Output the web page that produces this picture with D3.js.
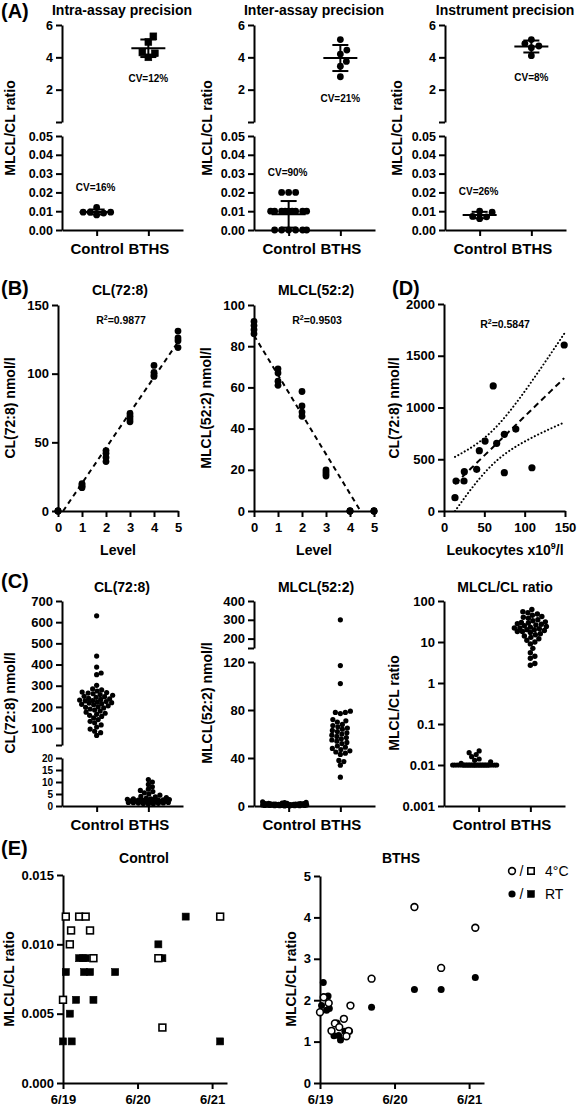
<!DOCTYPE html>
<html><head><meta charset="utf-8">
<script src="https://cdn.jsdelivr.net/npm/d3@7"></script>
<style>body{margin:0;background:#fff} svg{display:block}</style>
</head><body>
<script>
// ================= DATA =================
const categories = ["Control", "BTHS"];

// (A) precision
const titlesA = ["Intra-assay precision", "Inter-assay precision", "Instrument precision"];
const intraControl = [0.012, 0.008, 0.0095, 0.0095, 0.0095, 0.009];
const intraBTHS = [5.3, 4.95, 4.3, 4.25, 4.0];
const interControl = [0.02, 0.02, 0.02, 0.01, 0.01, 0.01, 0.01, 0.01, 0.01, 0.01, 0.01, 0.01, 0, 0, 0, 0, 0, 0];
const interBTHS = [5.1, 4.45, 4.2, 3.75, 3.45, 2.8];
const instrControl = [0.0095, 0.006, 0.010, 0.007, 0.0072];
const instrBTHS = [4.85, 5.1, 4.6, 4.7, 4.1];
const cvControl = ["CV=16%", "CV=90%", "CV=26%"];
const cvBTHS = ["CV=12%", "CV=21%", "CV=8%"];
const ticksAUpper = [0, 2, 4, 6];
const ticksALower = [0, 0.01, 0.02, 0.03, 0.04, 0.05];

// (B) linearity
const levels = [0,0,0,0, 1,1,1,1, 2,2,2,2, 3,3,3,3, 4,4,4,4, 5,5,5,5];
const clLevel = [0,0,0,0, 17,18,19,20, 36,39,42,44, 65,67,69,71, 98,99,101,106, 119,124,126,131];
const mlclLevel = [86,88,90,92, 61,63,67,69, 46,48,51,58, 17,18,19,20, 0,0,0,0, 0,0,0,0];
const levelTicks = [0, 1, 2, 3, 4, 5];
const clTicks = [0, 50, 100, 150];
const mlclTicks = [0, 20, 40, 60, 80, 100];
const r2Labels = ["0.9877", "0.9503", "0.5847"];

// (D) leukocytes vs CL(72:8)
const leukocytes = [13.6, 14.9, 24.8, 25.2, 40.5, 43.8, 50.9, 65.3, 74.8, 89, 74.8, 109, 61, 149];
const clLeuk = [129, 290, 290, 380, 403, 583, 676, 654, 741, 792, 370, 418, 1208, 1604];
const leukTicks = [0, 50, 100, 150];
const clLeukTicks = [0, 500, 1000, 1500, 2000];
const tCrit = 2.179; // t(0.975, df=12)

// (C) patients
const cControlCL = [630, 440, 388, 360, 352, 302, 285, 280, 275, 270, 268, 265, 262, 258, 255, 250, 248, 245, 240, 238, 235, 232, 230, 228, 225, 222, 220, 218, 215, 212, 210, 205, 200, 198, 195, 190, 185, 180, 175, 170, 165, 160, 155, 148, 140, 132, 125, 115, 105, 95, 85, 78, 65];
const cBTHSCL = [11, 10, 9, 8, 7, 6.5, 6, 5.5, 5, 4.5, 4, 3.8, 3.5, 3.3, 3, 3, 2.8, 2.7, 2.6, 2.5, 2.5, 2.4, 2.3, 2.2, 2.1, 2, 2, 1.9, 1.8, 1.8, 1.7, 1.6, 1.5, 1.5, 1.4, 1.3, 1.2, 1.1, 1, 0.9, 0.8];
const cControlMLCL = [3.5, 3, 2.8, 2.5, 2.3, 2.2, 2, 2, 1.9, 1.8, 1.7, 1.6, 1.5, 1.5, 1.4, 1.3, 1.2, 1.2, 1.1, 1, 1, 0.9, 0.9, 0.8, 0.8, 0.7, 0.7, 0.6, 0.6, 0.5, 0.5, 0.5, 0.4, 0.4, 0.3, 0.3, 0.2, 0.2, 0.1, 0.1];
const cBTHSMLCL = [300, 117, 102, 79, 78, 78, 77, 72, 71, 70, 68, 67, 66, 65, 64, 63, 62, 61, 60, 59, 58, 57, 56, 55, 54, 53, 52, 50, 49, 48, 47, 46, 45, 44, 43, 38, 37, 34, 24];
const cControlRatio = [0.022, 0.02, 0.018, 0.016, 0.014, 0.013, 0.012, 0.011, 0.010, 0.010, 0.010, 0.010, 0.010, 0.010, 0.010, 0.010, 0.010, 0.010, 0.010, 0.010, 0.010, 0.010, 0.010, 0.010, 0.010, 0.010, 0.010, 0.010, 0.010, 0.010, 0.010, 0.010, 0.010, 0.010, 0.010, 0.010, 0.010, 0.010];
const cBTHSRatio = [62, 55, 52, 48, 45, 42, 40, 38, 35, 33, 31, 30, 29, 28, 27, 26, 25, 24, 23, 22, 22, 21, 20, 20, 19, 18, 18, 17, 16, 15, 14, 13, 12, 11, 10, 9, 7, 5.5, 4.5, 4, 3, 2.7];
const clUpTicks = [20, 100, 200, 300, 400, 500, 600, 700];
const clLoTicks = [0, 5, 10, 15, 20];
const mlclUpTicks = [150, 200, 300, 400];
const mlclLoTicks = [0, 40, 80, 120];
const ratioLogTicks = [0.001, 0.01, 0.1, 1, 10, 100];
const ratioLogLabels = ["0.001", "0.01", "0.1", "1", "10", "100"];

// (E) stability, hours after 6/19 00:00
const dayTicks = [0, 24, 48];
const dayLabels = ["6/19", "6/20", "6/21"];
const eCtrl4CHours = [0.9, 5.2, 7.3, 2.6, 8.7, 2.2, 9.8, 0, 30.7, 32, 50.6];
const eCtrl4CRatio = [0.012, 0.012, 0.012, 0.011, 0.011, 0.010, 0.009, 0.006, 0.009, 0.004, 0.012];
const eCtrlRTHours = [0.9, 0, 2.8, 2.2, 4.2, 5.2, 6.5, 7.3, 6.8, 8.7, 9.8, 16.8, 30.7, 32, 39.5, 50.6];
const eCtrlRTRatio = [0.008, 0.003, 0.003, 0.005, 0.006, 0.009, 0.009, 0.009, 0.008, 0.008, 0.006, 0.008, 0.010, 0.009, 0.012, 0.003];
const eBTHS4CHours = [0, 1.2, 2.8, 4.8, 7.7, 3.7, 9.2, 8.5, 9.8, 6.2, 16.6, 30.4, 39, 50];
const eBTHS4CRatio = [1.71, 2.07, 1.93, 1.44, 1.55, 1.26, 1.26, 1.13, 1.87, 1.35, 2.52, 4.25, 2.78, 3.75];
const eBTHSRTHours = [1.05, 0.5, 2.6, 2.1, 3.0, 4.5, 6.6, 5.5, 8.0, 9.5, 6.0, 16.6, 30.4, 39, 50];
const eBTHSRTRatio = [2.43, 1.87, 2.10, 1.76, 1.80, 1.14, 1.04, 1.45, 1.25, 1.25, 1.15, 1.83, 2.26, 2.26, 2.55];
const eCtrlTicks = [0, 0.005, 0.010, 0.015];
const eBTHSTicks = [0, 1, 2, 3, 4, 5];
const legendLabels = ["4°C", "RT"];

// ================= HELPERS =================
const FONT = "'Liberation Sans', Arial, Helvetica, sans-serif";
const svg = d3.select("body").append("svg").attr("width", 577).attr("height", 1107)
  .style("font-family", FONT);

function txt(x, y, s, size, anchor = "middle", weight = "bold") {
  return svg.append("text").attr("x", x).attr("y", y).text(s)
    .attr("font-size", size).attr("font-weight", weight)
    .attr("text-anchor", anchor).attr("fill", "#000");
}
function yLabel(x, yc, s, size = 14) {
  return svg.append("text").attr("transform", `translate(${x},${yc}) rotate(-90)`)
    .attr("text-anchor", "middle").attr("font-size", size).attr("font-weight", "bold")
    .attr("fill", "#000").text(s);
}
function styleAxis(g, fs) {
  g.attr("font-family", FONT).attr("font-size", fs);
  g.selectAll("path.domain").attr("stroke", "#000").attr("stroke-width", 2);
  g.selectAll(".tick line").attr("stroke", "#000").attr("stroke-width", 2);
  g.selectAll(".tick text").attr("font-weight", "bold").attr("fill", "#000");
  return g;
}
function axisL(x, scale, ticks, fmt, fs) {
  const g = svg.append("g").attr("transform", `translate(${x},0)`)
    .call(d3.axisLeft(scale).tickValues(ticks).tickFormat(fmt).tickSize(6).tickSizeOuter(0).tickPadding(3));
  return styleAxis(g, fs);
}
function axisB(y, scale, ticks, fmt, fs, pad = 6) {
  const g = svg.append("g").attr("transform", `translate(0,${y})`)
    .call(d3.axisBottom(scale).tickValues(ticks).tickFormat(fmt).tickSize(6).tickSizeOuter(0).tickPadding(pad));
  return styleAxis(g, fs);
}
// beeswarm layout (pixel space)
function swarm(values, yFn, cx, diam, maxHalf, step = 0.5) {
  const pts = values.map(v => ({ v, y: yFn(v) })).sort((a, b) => d3.ascending(a.v, b.v));
  const placed = [];
  for (const p of pts) {
    let best = 0, bestD = -1;
    for (let k = 0; ; k++) {
      const off = (k % 2 === 1 ? 1 : -1) * Math.ceil(k / 2) * step;
      if (Math.abs(off) > maxHalf) break;
      let minD = Infinity;
      for (const q of placed) {
        const dy = q.y - p.y;
        if (Math.abs(dy) >= diam) continue;
        const d = Math.hypot(q.x - (cx + off), dy);
        if (d < minD) minD = d;
      }
      if (minD >= diam) { best = off; break; }
      if (minD > bestD + 0.01) { bestD = minD; best = off; }
    }
    p.x = cx + best;
    placed.push(p);
  }
  return pts;
}
function drawPts(pts, shape, r, filled = true) {
  const g = svg.append("g");
  if (shape === "square") {
    g.selectAll("rect").data(pts).join("rect")
      .attr("x", d => d.x - r).attr("y", d => d.y - r)
      .attr("width", 2 * r).attr("height", 2 * r)
      .attr("fill", filled ? "#000" : "#fff").attr("stroke", "#000")
      .attr("stroke-width", filled ? 0.6 : 1.6);
  } else {
    g.selectAll("circle").data(pts).join("circle")
      .attr("cx", d => d.x).attr("cy", d => d.y).attr("r", r)
      .attr("fill", filled ? "#000" : "#fff").attr("stroke", "#000")
      .attr("stroke-width", filled ? 0 : 1.6);
  }
  return g;
}
function errBar(cx, yS, vals) {
  const m = d3.mean(vals), sd = d3.deviation(vals);
  const ys = yS.copy().clamp(true);
  const g = svg.append("g").attr("stroke", "#000").attr("stroke-width", 2);
  g.append("line").attr("x1", cx - 17).attr("x2", cx + 17).attr("y1", ys(m)).attr("y2", ys(m));
  g.append("line").attr("x1", cx).attr("x2", cx).attr("y1", ys(m - sd)).attr("y2", ys(m + sd));
  [m - sd, m + sd].forEach(v => {
    if (v >= yS.domain()[0])
      g.append("line").attr("x1", cx - 8).attr("x2", cx + 8).attr("y1", ys(v)).attr("y2", ys(v));
  });
}
function linreg(xs, ys) {
  const mx = d3.mean(xs), my = d3.mean(ys);
  let sxx = 0, sxy = 0, syy = 0;
  xs.forEach((x, i) => { sxx += (x - mx) ** 2; sxy += (x - mx) * (ys[i] - my); syy += (ys[i] - my) ** 2; });
  const b = sxy / sxx, a = my - b * mx;
  const s = Math.sqrt((syy - b * sxy) / (xs.length - 2));
  return { a, b, mx, sxx, s, n: xs.length };
}
let clipId = 0;
function clipRect(x0, y0, x1, y1) {
  const id = "clip" + (clipId++);
  svg.append("clipPath").attr("id", id).append("rect")
    .attr("x", x0).attr("y", y0).attr("width", x1 - x0).attr("height", y1 - y0);
  return `url(#${id})`;
}
function r2Text(x, y, val) {
  const t = svg.append("text").attr("x", x).attr("y", y).attr("text-anchor", "middle")
    .attr("font-size", 10.5).attr("font-weight", "bold").attr("fill", "#000");
  t.append("tspan").text("R");
  t.append("tspan").text("2").attr("font-size", 7).attr("dy", -4);
  t.append("tspan").text("=" + val).attr("dy", 4);
}

// ================= PANEL LABELS =================
txt(1, 18, "(A)", 20, "start");
txt(1, 295, "(B)", 20, "start");
txt(392, 295, "(D)", 20, "start");
txt(1, 588, "(C)", 20, "start");
txt(1, 855, "(E)", 20, "start");

// ================= (A) =================
const aX0 = [62, 254, 445];
const aYLab = [15, 212, 402];
const aCtrl = [intraControl, interControl, instrControl];
const aBTHS = [intraBTHS, interBTHS, instrBTHS];
const aBTHSShape = ["square", "circle", "circle"];
aX0.forEach((x0, i) => {
  const x = d3.scalePoint().domain(categories).range([x0, x0 + 121]).padding(0.67);
  const yUp = d3.scaleLinear().domain([0, 6]).range([122, 25]);
  const yLo = d3.scaleLinear().domain([0, 0.05]).range([230, 136]);
  axisL(x0, yUp, ticksAUpper, d => d === 0 ? "" : d3.format("d")(d), 12.5);
  axisL(x0, yLo, ticksALower, d3.format(".2f"), 12.5);
  axisB(230, x, categories, d => d, 15, 7);
  txt(x0 + 60, 15, titlesA[i], 14);
  yLabel(aYLab[i], 128, "MLCL/CL ratio");
  const cP = swarm(aCtrl[i], yLo, x("Control"), 7, 18);
  drawPts(cP, "circle", 3.4);
  errBar(x("Control"), yLo, aCtrl[i]);
  const bP = swarm(aBTHS[i], yUp, x("BTHS"), 7.5, 18);
  drawPts(bP, aBTHSShape[i], 3.4);
  errBar(x("BTHS"), yUp, aBTHS[i]);
  txt(x("BTHS"), yUp(d3.min(aBTHS[i])) + 25, cvBTHS[i], 10);
  txt(x("Control") - 1, yLo(d3.max(aCtrl[i])) - 16, cvControl[i], 10);
});

// ================= (B) =================
function levelPanel(x0, yMax, vals, ticks, title, r2, ylab, ylabX) {
  const x = d3.scaleLinear().domain([0, 5]).range([x0, x0 + 120]);
  const y = d3.scaleLinear().domain([0, yMax]).range([511, 305]);
  axisL(x0, y, ticks, d3.format("d"), 13);
  axisB(511, x, levelTicks, d3.format("d"), 13);
  txt(x0 + 62, 295, title, 14);
  r2Text(x0 + 63, 324, r2);
  txt(x0 + 60, 555, "Level", 14);
  yLabel(ylabX, 408, ylab);
  const reg = linreg(levels, vals);
  svg.append("path")
    .attr("d", d3.line()([[x(0), y(reg.a)], [x(5), y(reg.a + 5 * reg.b)]]))
    .attr("stroke", "#000").attr("stroke-width", 2).attr("stroke-dasharray", "5,4").attr("fill", "none")
    .attr("clip-path", clipRect(x0, 305, x0 + 121, y(0)));
  drawPts(levels.map((l, i) => ({ x: x(l), y: y(vals[i]) })), "circle", 3.4);
}
levelPanel(58, 150, clLevel, clTicks, "CL(72:8)", r2Labels[0], "CL(72:8) nmol/l", 15);
levelPanel(254, 100, mlclLevel, mlclTicks, "MLCL(52:2)", r2Labels[1], "MLCL(52:2) nmol/l", 211);

// ================= (D) =================
{
  const x = d3.scaleLinear().domain([0, 150]).range([444, 565]);
  const y = d3.scaleLinear().domain([0, 2000]).range([511, 304]);
  axisL(444, y, clLeukTicks, d3.format("d"), 13);
  axisB(511, x, leukTicks, d3.format("d"), 13);
  r2Text(505, 328, r2Labels[2]);
  yLabel(399, 408, "CL(72:8) nmol/l");
  const xl = svg.append("text").attr("x", 505).attr("y", 555).attr("text-anchor", "middle")
    .attr("font-size", 14).attr("font-weight", "bold");
  xl.append("tspan").text("Leukocytes x10");
  xl.append("tspan").text("9").attr("font-size", 9).attr("dy", -6);
  xl.append("tspan").text("/l").attr("dy", 6);
  const reg = linreg(leukocytes, clLeuk);
  const [xmin, xmax] = d3.extent(leukocytes);
  const xs = d3.range(0, 41).map(k => xmin + (xmax - xmin) * k / 40);
  const fit = xv => reg.a + reg.b * xv;
  const half = xv => tCrit * reg.s * Math.sqrt(1 / reg.n + (xv - reg.mx) ** 2 / reg.sxx);
  const clip = clipRect(444, 300, 570, 511);
  const line = d3.line().x(d => x(d[0])).y(d => y(d[1]));
  svg.append("path").attr("d", line(xs.map(v => [v, fit(v)])))
    .attr("stroke", "#000").attr("stroke-width", 2).attr("stroke-dasharray", "6,4").attr("fill", "none")
    .attr("clip-path", clip);
  [1, -1].forEach(sg => {
    svg.append("path").attr("d", line(xs.map(v => [v, fit(v) + sg * half(v)])))
      .attr("stroke", "#000").attr("stroke-width", 2).attr("stroke-dasharray", "0.1,3.6")
      .attr("stroke-linecap", "round").attr("fill", "none").attr("clip-path", clip);
  });
  drawPts(leukocytes.map((l, i) => ({ x: x(l), y: y(clLeuk[i]) })), "circle", 3.6);
}

// ================= (C) =================
{
  // CL(72:8)
  const x0 = 62;
  const x = d3.scalePoint().domain(categories).range([x0, x0 + 121]).padding(0.67);
  const yUp = d3.scaleLinear().domain([20, 700]).range([745, 601]);
  const yLo = d3.scaleLinear().domain([0, 20]).range([806, 758]);
  const yF = v => v > 20 ? yUp(v) : yLo(v);
  axisL(x0, yUp, clUpTicks, d => d === 20 ? "" : d3.format("d")(d), 13);
  axisL(x0, yLo, clLoTicks, d3.format("d"), 10);
  axisB(806, x, categories, d => d, 15, 7);
  txt(x0 + 60, 592, "CL(72:8)", 14);
  yLabel(15, 703, "CL(72:8) nmol/l");
  drawPts(swarm(cControlCL, yF, x("Control"), 4.6, 17), "circle", 2.6);
  drawPts(swarm(cBTHSCL, yF, x("BTHS"), 4.6, 21), "circle", 2.6);
}
{
  // MLCL(52:2)
  const x0 = 254;
  const x = d3.scalePoint().domain(categories).range([x0, x0 + 121]).padding(0.67);
  const yUp = d3.scaleLinear().domain([150, 400]).range([648, 601]);
  const yLo = d3.scaleLinear().domain([0, 120]).range([806, 662]);
  const yF = v => v > 120 ? yUp(v) : yLo(v);
  axisL(x0, yUp, mlclUpTicks, d => d === 150 ? "" : d3.format("d")(d), 13);
  axisL(x0, yLo, mlclLoTicks, d3.format("d"), 13);
  axisB(806, x, categories, d => d, 15, 7);
  txt(x0 + 62, 592, "MLCL(52:2)", 14);
  yLabel(212, 703, "MLCL(52:2) nmol/l");
  drawPts(swarm(cControlMLCL, yF, x("Control") - 4, 4.6, 22), "circle", 2.6);
  drawPts(swarm(cBTHSMLCL, yF, x("BTHS"), 4.8, 17), "circle", 2.6);
}
{
  // MLCL/CL ratio (log)
  const x0 = 444;
  const x = d3.scalePoint().domain(categories).range([x0, x0 + 121]).padding(0.67);
  const y = d3.scaleLog().domain([0.001, 100]).range([806, 601]);
  axisL(x0, y, ratioLogTicks, (d, i) => ratioLogLabels[i], 13);
  axisB(806, x, categories, d => d, 15, 7);
  txt(x0 + 61, 592, "MLCL/CL ratio", 14);
  yLabel(399, 703, "MLCL/CL ratio");
  drawPts(swarm(cControlRatio, y, x("Control") - 4, 4.6, 22), "circle", 2.6);
  drawPts(swarm(cBTHSRatio, y, x("BTHS"), 4.8, 16), "circle", 2.7);
}

// ================= (E) =================
function stabPanel(x0, yTop, yDomMax, ticks, fmt, title, ylabX, d4h, d4v, dRh, dRv, shape) {
  const x = d3.scaleLinear().domain([0, 52.8]).range([x0, x0 + 164]);
  const y = d3.scaleLinear().domain([0, yDomMax]).range([1083, yTop]);
  axisL(x0, y, ticks, fmt, 13);
  axisB(1083, x, dayTicks, (d, i) => dayLabels[i], 13, 6);
  txt(x0 + 81, 863, title, 14);
  yLabel(ylabX, 979, "MLCL/CL ratio");
  drawPts(dRh.map((h, i) => ({ x: x(h), y: y(dRv[i]) })), shape, 3.5, true);
  drawPts(d4h.map((h, i) => ({ x: x(h), y: y(d4v[i]) })), shape, 3.4, false);
}
stabPanel(63, 875, 0.015, eCtrlTicks, d3.format(".3f"), "Control", 14,
  eCtrl4CHours, eCtrl4CRatio, eCtrlRTHours, eCtrlRTRatio, "square");
stabPanel(320, 876, 5, eBTHSTicks, d3.format("d"), "BTHS", 296,
  eBTHS4CHours, eBTHS4CRatio, eBTHSRTHours, eBTHSRTRatio, "circle");

// legend
{
  const rows = [{ y: 871, filled: false }, { y: 894, filled: true }];
  rows.forEach((r, i) => {
    drawPts([{ x: 512, y: r.y }], "circle", r.filled ? 3.6 : 3.4, r.filled);
    txt(521.5, r.y + 5, "/", 14, "middle", "normal");
    drawPts([{ x: 531, y: r.y }], "square", r.filled ? 3.4 : 3.2, r.filled);
    txt(545, r.y + 5, legendLabels[i], 14, "start", "normal");
  });
}
</script>
</body></html>
